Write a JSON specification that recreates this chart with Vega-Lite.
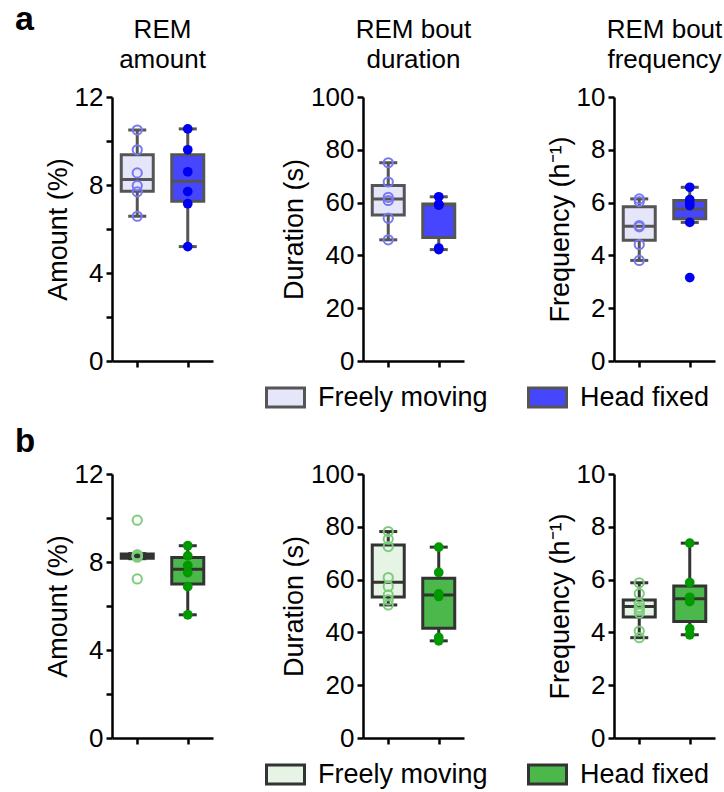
{
"$schema":"https://vega.github.io/schema/vega-lite/v6.json",
"padding":{"left":15,"top":3,"right":0,"bottom":0},
"title":{"text":"a","anchor":"start","fontSize":34,"fontWeight":"bold","offset":0,"dy":20},
"datasets":{
"pts":[
{"row":"a","m":"amount","grp":"Freely moving","v":10.5},{"row":"a","m":"amount","grp":"Freely moving","v":9.6},{"row":"a","m":"amount","grp":"Freely moving","v":8.55},{"row":"a","m":"amount","grp":"Freely moving","v":7.97},{"row":"a","m":"amount","grp":"Freely moving","v":7.69},{"row":"a","m":"amount","grp":"Freely moving","v":6.58},
{"row":"a","m":"amount","grp":"Head fixed","v":10.55},{"row":"a","m":"amount","grp":"Head fixed","v":9.6},{"row":"a","m":"amount","grp":"Head fixed","v":8.6},{"row":"a","m":"amount","grp":"Head fixed","v":7.7},{"row":"a","m":"amount","grp":"Head fixed","v":7.15},{"row":"a","m":"amount","grp":"Head fixed","v":5.2},
{"row":"a","m":"duration","grp":"Freely moving","v":75.1},{"row":"a","m":"duration","grp":"Freely moving","v":67.8},{"row":"a","m":"duration","grp":"Freely moving","v":62.0},{"row":"a","m":"duration","grp":"Freely moving","v":60.8},{"row":"a","m":"duration","grp":"Freely moving","v":54.1},{"row":"a","m":"duration","grp":"Freely moving","v":45.9},
{"row":"a","m":"duration","grp":"Head fixed","v":62.2},{"row":"a","m":"duration","grp":"Head fixed","v":59.2},{"row":"a","m":"duration","grp":"Head fixed","v":59.3},{"row":"a","m":"duration","grp":"Head fixed","v":59.1},{"row":"a","m":"duration","grp":"Head fixed","v":42.8},{"row":"a","m":"duration","grp":"Head fixed","v":42.2},
{"row":"a","m":"freq","grp":"Freely moving","v":6.14},{"row":"a","m":"freq","grp":"Freely moving","v":6.04},{"row":"a","m":"freq","grp":"Freely moving","v":5.13},{"row":"a","m":"freq","grp":"Freely moving","v":5.08},{"row":"a","m":"freq","grp":"Freely moving","v":4.41},{"row":"a","m":"freq","grp":"Freely moving","v":3.81},
{"row":"a","m":"freq","grp":"Head fixed","v":6.58},{"row":"a","m":"freq","grp":"Head fixed","v":6.11},{"row":"a","m":"freq","grp":"Head fixed","v":5.99},{"row":"a","m":"freq","grp":"Head fixed","v":5.89},{"row":"a","m":"freq","grp":"Head fixed","v":5.25},{"row":"a","m":"freq","grp":"Head fixed","v":3.16},
{"row":"b","m":"amount","grp":"Freely moving","v":9.9},{"row":"b","m":"amount","grp":"Freely moving","v":8.33},{"row":"b","m":"amount","grp":"Freely moving","v":8.25},{"row":"b","m":"amount","grp":"Freely moving","v":8.22},{"row":"b","m":"amount","grp":"Freely moving","v":8.26},{"row":"b","m":"amount","grp":"Freely moving","v":8.32},{"row":"b","m":"amount","grp":"Freely moving","v":7.23},
{"row":"b","m":"amount","grp":"Head fixed","v":8.74},{"row":"b","m":"amount","grp":"Head fixed","v":8.28},{"row":"b","m":"amount","grp":"Head fixed","v":7.84},{"row":"b","m":"amount","grp":"Head fixed","v":7.52},{"row":"b","m":"amount","grp":"Head fixed","v":6.88},{"row":"b","m":"amount","grp":"Head fixed","v":5.6},
{"row":"b","m":"duration","grp":"Freely moving","v":78.2},{"row":"b","m":"duration","grp":"Freely moving","v":75.3},{"row":"b","m":"duration","grp":"Freely moving","v":72.5},{"row":"b","m":"duration","grp":"Freely moving","v":60.8},{"row":"b","m":"duration","grp":"Freely moving","v":57.4},{"row":"b","m":"duration","grp":"Freely moving","v":54.2},{"row":"b","m":"duration","grp":"Freely moving","v":52.3},{"row":"b","m":"duration","grp":"Freely moving","v":50.4},
{"row":"b","m":"duration","grp":"Head fixed","v":72.3},{"row":"b","m":"duration","grp":"Head fixed","v":62.7},{"row":"b","m":"duration","grp":"Head fixed","v":54.6},{"row":"b","m":"duration","grp":"Head fixed","v":53.6},{"row":"b","m":"duration","grp":"Head fixed","v":38.1},{"row":"b","m":"duration","grp":"Head fixed","v":36.8},
{"row":"b","m":"freq","grp":"Freely moving","v":5.88},{"row":"b","m":"freq","grp":"Freely moving","v":5.47},{"row":"b","m":"freq","grp":"Freely moving","v":5.09},{"row":"b","m":"freq","grp":"Freely moving","v":4.94},{"row":"b","m":"freq","grp":"Freely moving","v":4.85},{"row":"b","m":"freq","grp":"Freely moving","v":4.73},{"row":"b","m":"freq","grp":"Freely moving","v":4.05},{"row":"b","m":"freq","grp":"Freely moving","v":3.8},
{"row":"b","m":"freq","grp":"Head fixed","v":7.38},{"row":"b","m":"freq","grp":"Head fixed","v":5.89},{"row":"b","m":"freq","grp":"Head fixed","v":5.33},{"row":"b","m":"freq","grp":"Head fixed","v":5.17},{"row":"b","m":"freq","grp":"Head fixed","v":4.14},{"row":"b","m":"freq","grp":"Head fixed","v":3.91}
],
"box":[
{"row":"a","m":"amount","g":"Freely moving","lo":6.58,"q1":7.72,"med":8.25,"q3":9.38,"hi":10.5},
{"row":"a","m":"amount","g":"Head fixed","lo":5.2,"q1":7.26,"med":8.17,"q3":9.38,"hi":10.55},
{"row":"a","m":"duration","g":"Freely moving","lo":45.9,"q1":55.3,"med":61.4,"q3":66.5,"hi":75.1},
{"row":"a","m":"duration","g":"Head fixed","lo":42.2,"q1":46.8,"med":59.2,"q3":59.5,"hi":62.2},
{"row":"a","m":"freq","g":"Freely moving","lo":3.81,"q1":4.57,"med":5.1,"q3":5.84,"hi":6.14},
{"row":"a","m":"freq","g":"Head fixed","lo":5.25,"q1":5.39,"med":5.76,"q3":6.08,"hi":6.58},
{"row":"b","m":"amount","g":"Freely moving","lo":8.15,"q1":8.17,"med":8.27,"q3":8.36,"hi":8.38},
{"row":"b","m":"amount","g":"Head fixed","lo":5.6,"q1":7.0,"med":7.67,"q3":8.2,"hi":8.74},
{"row":"b","m":"duration","g":"Freely moving","lo":50.4,"q1":53.4,"med":59.0,"q3":73.1,"hi":78.2},
{"row":"b","m":"duration","g":"Head fixed","lo":36.8,"q1":41.6,"med":54.2,"q3":60.5,"hi":72.3},
{"row":"b","m":"freq","g":"Freely moving","lo":3.8,"q1":4.58,"med":4.98,"q3":5.23,"hi":5.88},
{"row":"b","m":"freq","g":"Head fixed","lo":3.91,"q1":4.41,"med":5.27,"q3":5.76,"hi":7.38}
]
},
"concat":[
{"width":101,"height":264,"title":{"text":["REM","amount"]},
"layer":[
{"data":{"name":"box"},"transform":[{"filter":"datum.row==='a' && datum.m==='amount'"}],"mark":{"type":"rule","color":"#555555","strokeWidth":3},
"encoding":{"x":{"field":"g","type":"nominal","scale":{"type":"point","padding":0.5,"domain":["Freely moving","Head fixed"]},"axis":{"labels":false,"title":null}},
"y":{"field":"lo","type":"quantitative","scale":{"domain":[0,12],"nice":false},"axis":{"title":"Amount (%)","values":[0,2,4,6,8,10,12],"labelExpr":"datum.value % 4 === 0 ? datum.label : ''"}},"y2":{"field":"hi"}}},
{"data":{"name":"box"},"transform":[{"filter":"datum.row==='a' && datum.m==='amount'"}],"mark":{"type":"bar","size":32,"stroke":"#555555","strokeWidth":3},
"encoding":{"x":{"field":"g","type":"nominal"},"y":{"field":"q1","type":"quantitative","title":"Amount (%)"},"y2":{"field":"q3"},
"fill":{"field":"g","type":"nominal","scale":{"domain":["Freely moving","Head fixed"],"range":["#e6e6fb","#4646ff"]},
"legend":{"orient":"none","legendX":153,"legendY":280,"direction":"horizontal","columns":2,"title":null,"symbolType":"M-1,-0.5H1V0.5H-1Z","symbolSize":1444,"symbolStrokeColor":"#555555","symbolStrokeWidth":3,"symbolOpacity":1,"labelFontSize":27,"labelColor":"black","labelOffset":12,"columnPadding":34,"labelLimit":400}}}},
{"data":{"name":"box"},"transform":[{"filter":"datum.row==='a' && datum.m==='amount'"}],"mark":{"type":"tick","size":32,"thickness":3,"color":"#555555","opacity":1},
"encoding":{"x":{"field":"g","type":"nominal"},"y":{"field":"med","type":"quantitative","title":"Amount (%)"}}},
{"data":{"name":"box"},"transform":[{"filter":"datum.row==='a' && datum.m==='amount'"}],"mark":{"type":"tick","size":18,"thickness":3,"color":"#555555","opacity":1},
"encoding":{"x":{"field":"g","type":"nominal"},"y":{"field":"lo","type":"quantitative","title":"Amount (%)"}}},
{"data":{"name":"box"},"transform":[{"filter":"datum.row==='a' && datum.m==='amount'"}],"mark":{"type":"tick","size":18,"thickness":3,"color":"#555555","opacity":1},
"encoding":{"x":{"field":"g","type":"nominal"},"y":{"field":"hi","type":"quantitative","title":"Amount (%)"}}},
{"data":{"name":"pts"},"transform":[{"filter":"datum.row==='a' && datum.m==='amount' && datum.grp==='Freely moving'"}],"mark":{"type":"point","shape":"circle","filled":false,"color":"#7878f2","size":85,"strokeWidth":2,"opacity":1},
"encoding":{"x":{"field":"grp","type":"nominal"},"y":{"field":"v","type":"quantitative","title":"Amount (%)"}}},
{"data":{"name":"pts"},"transform":[{"filter":"datum.row==='a' && datum.m==='amount' && datum.grp==='Head fixed'"}],"mark":{"type":"point","shape":"circle","filled":true,"color":"#0000f0","size":95,"opacity":1},
"encoding":{"x":{"field":"grp","type":"nominal"},"y":{"field":"v","type":"quantitative","title":"Amount (%)"}}}
]},
{"width":101,"height":264,"title":{"text":["REM bout","duration"]},
"layer":[
{"data":{"name":"box"},"transform":[{"filter":"datum.row==='a' && datum.m==='duration'"}],"mark":{"type":"rule","color":"#555555","strokeWidth":3},
"encoding":{"x":{"field":"g","type":"nominal","scale":{"type":"point","padding":0.5,"domain":["Freely moving","Head fixed"]},"axis":{"labels":false,"title":null}},
"y":{"field":"lo","type":"quantitative","scale":{"domain":[0,100],"nice":false},"axis":{"title":"Duration (s)","values":[0,20,40,60,80,100]}},"y2":{"field":"hi"}}},
{"data":{"name":"box"},"transform":[{"filter":"datum.row==='a' && datum.m==='duration'"}],"mark":{"type":"bar","size":32,"stroke":"#555555","strokeWidth":3},
"encoding":{"x":{"field":"g","type":"nominal"},"y":{"field":"q1","type":"quantitative","title":"Duration (s)"},"y2":{"field":"q3"},
"fill":{"field":"g","type":"nominal","scale":{"domain":["Freely moving","Head fixed"],"range":["#e6e6fb","#4646ff"]},"legend":null}}},
{"data":{"name":"box"},"transform":[{"filter":"datum.row==='a' && datum.m==='duration'"}],"mark":{"type":"tick","size":32,"thickness":3,"color":"#555555","opacity":1},
"encoding":{"x":{"field":"g","type":"nominal"},"y":{"field":"med","type":"quantitative","title":"Duration (s)"}}},
{"data":{"name":"box"},"transform":[{"filter":"datum.row==='a' && datum.m==='duration'"}],"mark":{"type":"tick","size":18,"thickness":3,"color":"#555555","opacity":1},
"encoding":{"x":{"field":"g","type":"nominal"},"y":{"field":"lo","type":"quantitative","title":"Duration (s)"}}},
{"data":{"name":"box"},"transform":[{"filter":"datum.row==='a' && datum.m==='duration'"}],"mark":{"type":"tick","size":18,"thickness":3,"color":"#555555","opacity":1},
"encoding":{"x":{"field":"g","type":"nominal"},"y":{"field":"hi","type":"quantitative","title":"Duration (s)"}}},
{"data":{"name":"pts"},"transform":[{"filter":"datum.row==='a' && datum.m==='duration' && datum.grp==='Freely moving'"}],"mark":{"type":"point","shape":"circle","filled":false,"color":"#7878f2","size":85,"strokeWidth":2,"opacity":1},
"encoding":{"x":{"field":"grp","type":"nominal"},"y":{"field":"v","type":"quantitative","title":"Duration (s)"}}},
{"data":{"name":"pts"},"transform":[{"filter":"datum.row==='a' && datum.m==='duration' && datum.grp==='Head fixed'"}],"mark":{"type":"point","shape":"circle","filled":true,"color":"#0000f0","size":95,"opacity":1},
"encoding":{"x":{"field":"grp","type":"nominal"},"y":{"field":"v","type":"quantitative","title":"Duration (s)"}}}
]},
{"width":101,"height":264,"title":{"text":["REM bout","frequency"]},
"layer":[
{"data":{"name":"box"},"transform":[{"filter":"datum.row==='a' && datum.m==='freq'"}],"mark":{"type":"rule","color":"#555555","strokeWidth":3},
"encoding":{"x":{"field":"g","type":"nominal","scale":{"type":"point","padding":0.5,"domain":["Freely moving","Head fixed"]},"axis":{"labels":false,"title":null}},
"y":{"field":"lo","type":"quantitative","scale":{"domain":[0,10],"nice":false},"axis":{"title":"Frequency (h⁻¹)","values":[0,2,4,6,8,10]}},"y2":{"field":"hi"}}},
{"data":{"name":"box"},"transform":[{"filter":"datum.row==='a' && datum.m==='freq'"}],"mark":{"type":"bar","size":32,"stroke":"#555555","strokeWidth":3},
"encoding":{"x":{"field":"g","type":"nominal"},"y":{"field":"q1","type":"quantitative","title":"Frequency (h⁻¹)"},"y2":{"field":"q3"},
"fill":{"field":"g","type":"nominal","scale":{"domain":["Freely moving","Head fixed"],"range":["#e6e6fb","#4646ff"]},"legend":null}}},
{"data":{"name":"box"},"transform":[{"filter":"datum.row==='a' && datum.m==='freq'"}],"mark":{"type":"tick","size":32,"thickness":3,"color":"#555555","opacity":1},
"encoding":{"x":{"field":"g","type":"nominal"},"y":{"field":"med","type":"quantitative","title":"Frequency (h⁻¹)"}}},
{"data":{"name":"box"},"transform":[{"filter":"datum.row==='a' && datum.m==='freq'"}],"mark":{"type":"tick","size":18,"thickness":3,"color":"#555555","opacity":1},
"encoding":{"x":{"field":"g","type":"nominal"},"y":{"field":"lo","type":"quantitative","title":"Frequency (h⁻¹)"}}},
{"data":{"name":"box"},"transform":[{"filter":"datum.row==='a' && datum.m==='freq'"}],"mark":{"type":"tick","size":18,"thickness":3,"color":"#555555","opacity":1},
"encoding":{"x":{"field":"g","type":"nominal"},"y":{"field":"hi","type":"quantitative","title":"Frequency (h⁻¹)"}}},
{"data":{"name":"pts"},"transform":[{"filter":"datum.row==='a' && datum.m==='freq' && datum.grp==='Freely moving'"}],"mark":{"type":"point","shape":"circle","filled":false,"color":"#7878f2","size":85,"strokeWidth":2,"opacity":1},
"encoding":{"x":{"field":"grp","type":"nominal"},"y":{"field":"v","type":"quantitative","title":"Frequency (h⁻¹)"}}},
{"data":{"name":"pts"},"transform":[{"filter":"datum.row==='a' && datum.m==='freq' && datum.grp==='Head fixed'"}],"mark":{"type":"point","shape":"circle","filled":true,"color":"#0000f0","size":95,"opacity":1},
"encoding":{"x":{"field":"grp","type":"nominal"},"y":{"field":"v","type":"quantitative","title":"Frequency (h⁻¹)"}}}
]},
{"width":101,"height":264,"title":{"text":"b","anchor":"start","fontSize":33,"fontWeight":"bold","dx":-29,"offset":2},
"layer":[
{"data":{"name":"box"},"transform":[{"filter":"datum.row==='b' && datum.m==='amount'"}],"mark":{"type":"rule","color":"#333333","strokeWidth":3},
"encoding":{"x":{"field":"g","type":"nominal","scale":{"type":"point","padding":0.5,"domain":["Freely moving","Head fixed"]},"axis":{"labels":false,"title":null}},
"y":{"field":"lo","type":"quantitative","scale":{"domain":[0,12],"nice":false},"axis":{"title":"Amount (%)","values":[0,2,4,6,8,10,12],"labelExpr":"datum.value % 4 === 0 ? datum.label : ''"}},"y2":{"field":"hi"}}},
{"data":{"name":"box"},"transform":[{"filter":"datum.row==='b' && datum.m==='amount'"}],"mark":{"type":"bar","size":32,"stroke":"#333333","strokeWidth":3},
"encoding":{"x":{"field":"g","type":"nominal"},"y":{"field":"q1","type":"quantitative","title":"Amount (%)"},"y2":{"field":"q3"},
"fill":{"field":"g","type":"nominal","scale":{"domain":["Freely moving","Head fixed"],"range":["#e6f4e6","#4cb84c"]},
"legend":{"orient":"none","legendX":153,"legendY":280,"direction":"horizontal","columns":2,"title":null,"symbolType":"M-1,-0.5H1V0.5H-1Z","symbolSize":1444,"symbolStrokeColor":"#333333","symbolStrokeWidth":3,"symbolOpacity":1,"labelFontSize":27,"labelColor":"black","labelOffset":12,"columnPadding":34,"labelLimit":400}}}},
{"data":{"name":"box"},"transform":[{"filter":"datum.row==='b' && datum.m==='amount'"}],"mark":{"type":"tick","size":32,"thickness":3,"color":"#333333","opacity":1},
"encoding":{"x":{"field":"g","type":"nominal"},"y":{"field":"med","type":"quantitative","title":"Amount (%)"}}},
{"data":{"name":"box"},"transform":[{"filter":"datum.row==='b' && datum.m==='amount'"}],"mark":{"type":"tick","size":18,"thickness":3,"color":"#333333","opacity":1},
"encoding":{"x":{"field":"g","type":"nominal"},"y":{"field":"lo","type":"quantitative","title":"Amount (%)"}}},
{"data":{"name":"box"},"transform":[{"filter":"datum.row==='b' && datum.m==='amount'"}],"mark":{"type":"tick","size":18,"thickness":3,"color":"#333333","opacity":1},
"encoding":{"x":{"field":"g","type":"nominal"},"y":{"field":"hi","type":"quantitative","title":"Amount (%)"}}},
{"data":{"name":"pts"},"transform":[{"filter":"datum.row==='b' && datum.m==='amount' && datum.grp==='Freely moving'"}],"mark":{"type":"point","shape":"circle","filled":false,"color":"#7ccc7c","size":85,"strokeWidth":2,"opacity":1},
"encoding":{"x":{"field":"grp","type":"nominal"},"y":{"field":"v","type":"quantitative","title":"Amount (%)"}}},
{"data":{"name":"pts"},"transform":[{"filter":"datum.row==='b' && datum.m==='amount' && datum.grp==='Head fixed'"}],"mark":{"type":"point","shape":"circle","filled":true,"color":"#009a00","size":95,"opacity":1},
"encoding":{"x":{"field":"grp","type":"nominal"},"y":{"field":"v","type":"quantitative","title":"Amount (%)"}}}
]},
{"width":101,"height":264,
"layer":[
{"data":{"name":"box"},"transform":[{"filter":"datum.row==='b' && datum.m==='duration'"}],"mark":{"type":"rule","color":"#333333","strokeWidth":3},
"encoding":{"x":{"field":"g","type":"nominal","scale":{"type":"point","padding":0.5,"domain":["Freely moving","Head fixed"]},"axis":{"labels":false,"title":null}},
"y":{"field":"lo","type":"quantitative","scale":{"domain":[0,100],"nice":false},"axis":{"title":"Duration (s)","values":[0,20,40,60,80,100]}},"y2":{"field":"hi"}}},
{"data":{"name":"box"},"transform":[{"filter":"datum.row==='b' && datum.m==='duration'"}],"mark":{"type":"bar","size":32,"stroke":"#333333","strokeWidth":3},
"encoding":{"x":{"field":"g","type":"nominal"},"y":{"field":"q1","type":"quantitative","title":"Duration (s)"},"y2":{"field":"q3"},
"fill":{"field":"g","type":"nominal","scale":{"domain":["Freely moving","Head fixed"],"range":["#e6f4e6","#4cb84c"]},"legend":null}}},
{"data":{"name":"box"},"transform":[{"filter":"datum.row==='b' && datum.m==='duration'"}],"mark":{"type":"tick","size":32,"thickness":3,"color":"#333333","opacity":1},
"encoding":{"x":{"field":"g","type":"nominal"},"y":{"field":"med","type":"quantitative","title":"Duration (s)"}}},
{"data":{"name":"box"},"transform":[{"filter":"datum.row==='b' && datum.m==='duration'"}],"mark":{"type":"tick","size":18,"thickness":3,"color":"#333333","opacity":1},
"encoding":{"x":{"field":"g","type":"nominal"},"y":{"field":"lo","type":"quantitative","title":"Duration (s)"}}},
{"data":{"name":"box"},"transform":[{"filter":"datum.row==='b' && datum.m==='duration'"}],"mark":{"type":"tick","size":18,"thickness":3,"color":"#333333","opacity":1},
"encoding":{"x":{"field":"g","type":"nominal"},"y":{"field":"hi","type":"quantitative","title":"Duration (s)"}}},
{"data":{"name":"pts"},"transform":[{"filter":"datum.row==='b' && datum.m==='duration' && datum.grp==='Freely moving'"}],"mark":{"type":"point","shape":"circle","filled":false,"color":"#7ccc7c","size":85,"strokeWidth":2,"opacity":1},
"encoding":{"x":{"field":"grp","type":"nominal"},"y":{"field":"v","type":"quantitative","title":"Duration (s)"}}},
{"data":{"name":"pts"},"transform":[{"filter":"datum.row==='b' && datum.m==='duration' && datum.grp==='Head fixed'"}],"mark":{"type":"point","shape":"circle","filled":true,"color":"#009a00","size":95,"opacity":1},
"encoding":{"x":{"field":"grp","type":"nominal"},"y":{"field":"v","type":"quantitative","title":"Duration (s)"}}}
]},
{"width":101,"height":264,
"layer":[
{"data":{"name":"box"},"transform":[{"filter":"datum.row==='b' && datum.m==='freq'"}],"mark":{"type":"rule","color":"#333333","strokeWidth":3},
"encoding":{"x":{"field":"g","type":"nominal","scale":{"type":"point","padding":0.5,"domain":["Freely moving","Head fixed"]},"axis":{"labels":false,"title":null}},
"y":{"field":"lo","type":"quantitative","scale":{"domain":[0,10],"nice":false},"axis":{"title":"Frequency (h⁻¹)","values":[0,2,4,6,8,10]}},"y2":{"field":"hi"}}},
{"data":{"name":"box"},"transform":[{"filter":"datum.row==='b' && datum.m==='freq'"}],"mark":{"type":"bar","size":32,"stroke":"#333333","strokeWidth":3},
"encoding":{"x":{"field":"g","type":"nominal"},"y":{"field":"q1","type":"quantitative","title":"Frequency (h⁻¹)"},"y2":{"field":"q3"},
"fill":{"field":"g","type":"nominal","scale":{"domain":["Freely moving","Head fixed"],"range":["#e6f4e6","#4cb84c"]},"legend":null}}},
{"data":{"name":"box"},"transform":[{"filter":"datum.row==='b' && datum.m==='freq'"}],"mark":{"type":"tick","size":32,"thickness":3,"color":"#333333","opacity":1},
"encoding":{"x":{"field":"g","type":"nominal"},"y":{"field":"med","type":"quantitative","title":"Frequency (h⁻¹)"}}},
{"data":{"name":"box"},"transform":[{"filter":"datum.row==='b' && datum.m==='freq'"}],"mark":{"type":"tick","size":18,"thickness":3,"color":"#333333","opacity":1},
"encoding":{"x":{"field":"g","type":"nominal"},"y":{"field":"lo","type":"quantitative","title":"Frequency (h⁻¹)"}}},
{"data":{"name":"box"},"transform":[{"filter":"datum.row==='b' && datum.m==='freq'"}],"mark":{"type":"tick","size":18,"thickness":3,"color":"#333333","opacity":1},
"encoding":{"x":{"field":"g","type":"nominal"},"y":{"field":"hi","type":"quantitative","title":"Frequency (h⁻¹)"}}},
{"data":{"name":"pts"},"transform":[{"filter":"datum.row==='b' && datum.m==='freq' && datum.grp==='Freely moving'"}],"mark":{"type":"point","shape":"circle","filled":false,"color":"#7ccc7c","size":85,"strokeWidth":2,"opacity":1},
"encoding":{"x":{"field":"grp","type":"nominal"},"y":{"field":"v","type":"quantitative","title":"Frequency (h⁻¹)"}}},
{"data":{"name":"pts"},"transform":[{"filter":"datum.row==='b' && datum.m==='freq' && datum.grp==='Head fixed'"}],"mark":{"type":"point","shape":"circle","filled":true,"color":"#009a00","size":95,"opacity":1},
"encoding":{"x":{"field":"grp","type":"nominal"},"y":{"field":"v","type":"quantitative","title":"Frequency (h⁻¹)"}}}
]}
],
"columns":3,
"spacing":{"row":113,"column":150},
"bounds":"flush",
"resolve":{"scale":{"fill":"independent"},"legend":{"fill":"independent"}},
"config":{
"view":{"stroke":null},
"font":"Liberation Sans",
"axis":{"domainColor":"black","domainWidth":2.5,"tickColor":"black","tickWidth":2.5,"tickSize":6,"labelFontSize":26,"labelColor":"black","labelFont":"Liberation Sans","labelPadding":3,"labelFlush":false,"labelOverlap":false,"titleFontSize":27,"titleFontWeight":"normal","titleColor":"black","titleFont":"Liberation Sans","grid":false,"titlePadding":2},
"legend":{"labelFont":"Liberation Sans"},
"title":{"fontSize":26,"fontWeight":"normal","color":"black","lineHeight":30,"offset":11,"font":"Liberation Sans"}
}
}
